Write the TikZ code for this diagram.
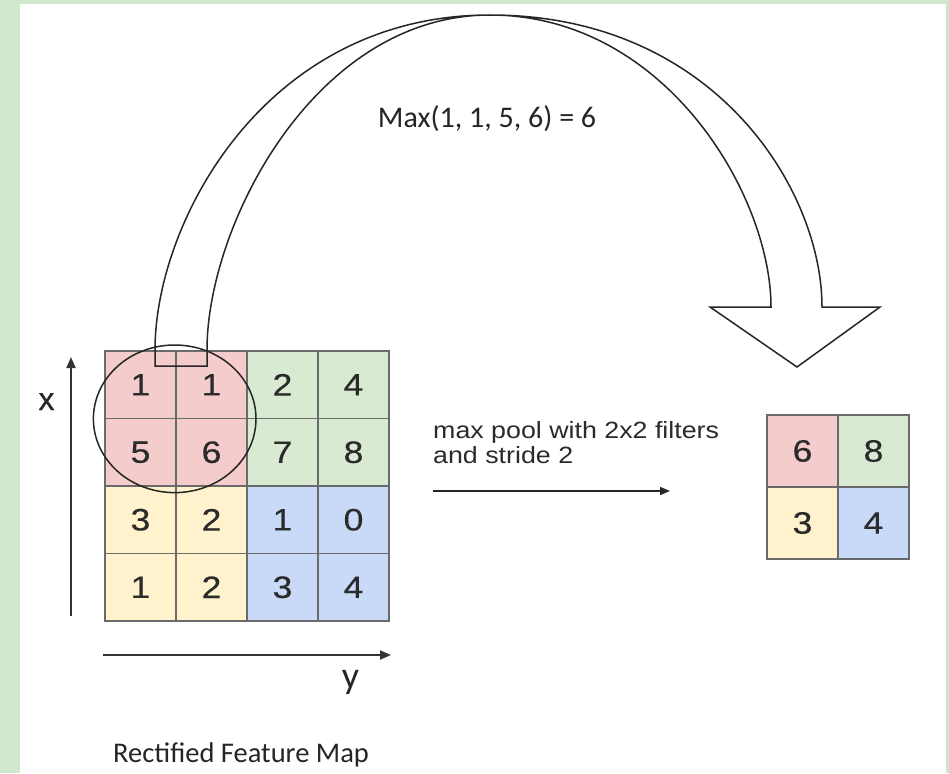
\documentclass[tikz,border=0pt]{standalone}
\usepackage{fontspec}
\setmainfont{Liberation Sans}
\newfontfamily\calibri{Carlito}
\newfontfamily\digitfont[FakeStretch=1.15,FakeBold=0.4]{Liberation Sans}
\newfontfamily\notefont[FakeStretch=1.14]{Liberation Sans}
\newfontfamily\labelfont[FakeBold=0.5]{Liberation Sans}
\usetikzlibrary{arrows.meta}
\definecolor{bordergreen}{HTML}{CFE8CB}
\definecolor{cpink}{HTML}{F4CCCC}
\definecolor{cgreen}{HTML}{D9EAD3}
\definecolor{cyellow}{HTML}{FFF2CC}
\definecolor{cblue}{HTML}{C9DAF8}
\definecolor{gridline}{HTML}{6A6A6A}
\definecolor{txt}{HTML}{2B2B2B}
\begin{document}
\begin{tikzpicture}[x=1pt,y=-1pt,
  cell/.style={draw=gridline, line width=1.3pt, minimum width=71pt, minimum height=67.5pt,
    inner sep=0pt, text=txt, font=\digitfont\fontsize{31}{34}\selectfont},
  scell/.style={cell, minimum height=72pt},
  axisarrow/.style={line width=2pt, draw=black!80, -{Triangle[length=11pt,width=9pt]}},
  outline/.style={line width=1.5pt, draw=black!85},
  lbl/.style={inner sep=0pt, text=black!85},
]
\fill[bordergreen] (0,0) rectangle (949,773);
\fill[white] (20,4) rectangle (946,773);
\useasboundingbox (0,0) rectangle (949,773);

% big grid
\node[cell, fill=cpink]   (a11) at (140.5,384.75) {1};
\node[cell, fill=cpink]   (a12) at (211.5,384.75) {1};
\node[cell, fill=cgreen]  (a13) at (282.5,384.75) {2};
\node[cell, fill=cgreen]  (a14) at (353.5,384.75) {4};
\node[cell, fill=cpink]   (a21) at (140.5,452.25) {5};
\node[cell, fill=cpink]   (a22) at (211.5,452.25) {6};
\node[cell, fill=cgreen]  (a23) at (282.5,452.25) {7};
\node[cell, fill=cgreen]  (a24) at (353.5,452.25) {8};
\node[cell, fill=cyellow] (a31) at (140.5,519.75) {3};
\node[cell, fill=cyellow] (a32) at (211.5,519.75) {2};
\node[cell, fill=cblue]   (a33) at (282.5,519.75) {1};
\node[cell, fill=cblue]   (a34) at (353.5,519.75) {0};
\node[cell, fill=cyellow] (a41) at (140.5,587.25) {1};
\node[cell, fill=cyellow] (a42) at (211.5,587.25) {2};
\node[cell, fill=cblue]   (a43) at (282.5,587.25) {3};
\node[cell, fill=cblue]   (a44) at (353.5,587.25) {4};

% small grid
\node[scell, fill=cpink]   (b11) at (802.5,451) {6};
\node[scell, fill=cgreen]  (b12) at (873.5,451) {8};
\node[scell, fill=cyellow] (b21) at (802.5,523) {3};
\node[scell, fill=cblue]   (b22) at (873.5,523) {4};

% circle round the 2x2 window
\draw[outline] (174.7,418.8) ellipse [x radius=81.3, y radius=73.8];

% curved block arrow
\draw[outline, line join=miter]
  (155,366) -- (207,366) -- (207,350)
  .. controls (207,225) and (315,15) .. (490,15)
  .. controls (665,15) and (771,195) .. (771,307)
  -- (710,307) -- (797,367) -- (880,307) -- (822,307)
  .. controls (822,190) and (715,15) .. (490,15)
  .. controls (265,15) and (155,222) .. (155,350)
  -- cycle;

% axes
\coordinate (xa0) at (71,616);
\coordinate (xa1) at (71,357);
\draw[axisarrow] (xa0) -- (xa1);
\coordinate (ya0) at (103,655);
\coordinate (ya1) at (391,655);
\draw[axisarrow] (ya0) -- (ya1);
\node[lbl, font=\labelfont\fontsize{32}{36}\selectfont, anchor=base] (xl) at (46.5,410) {x};
\node[lbl, font=\calibri\fontsize{38}{40}\selectfont, anchor=base] (yl) at (350.5,688) {y};

% pooling arrow
\coordinate (m0) at (433,491);
\coordinate (m1) at (670,491);
\draw[line width=1.5pt, draw=black!85, -{Triangle[length=10pt,width=8pt]}] (m0) -- (m1);
\node[lbl, text=txt, font=\notefont\fontsize{23.5}{26}\selectfont, anchor=base west] (mp1) at (433,438) {max pool with 2x2 filters};
\node[lbl, text=txt, font=\notefont\fontsize{23.5}{26}\selectfont, anchor=base west] (mp2) at (433,463) {and stride 2};

% texts
\node[lbl, font=\calibri\fontsize{30}{36}\selectfont, anchor=base] (maxt) at (487,127) {Max(1, 1, 5, 6) = 6};
\node[lbl, font=\calibri\fontsize{28.5}{34}\selectfont, anchor=base west] (rfm) at (113,762) {Rectified Feature Map};
\end{tikzpicture}
\end{document}
